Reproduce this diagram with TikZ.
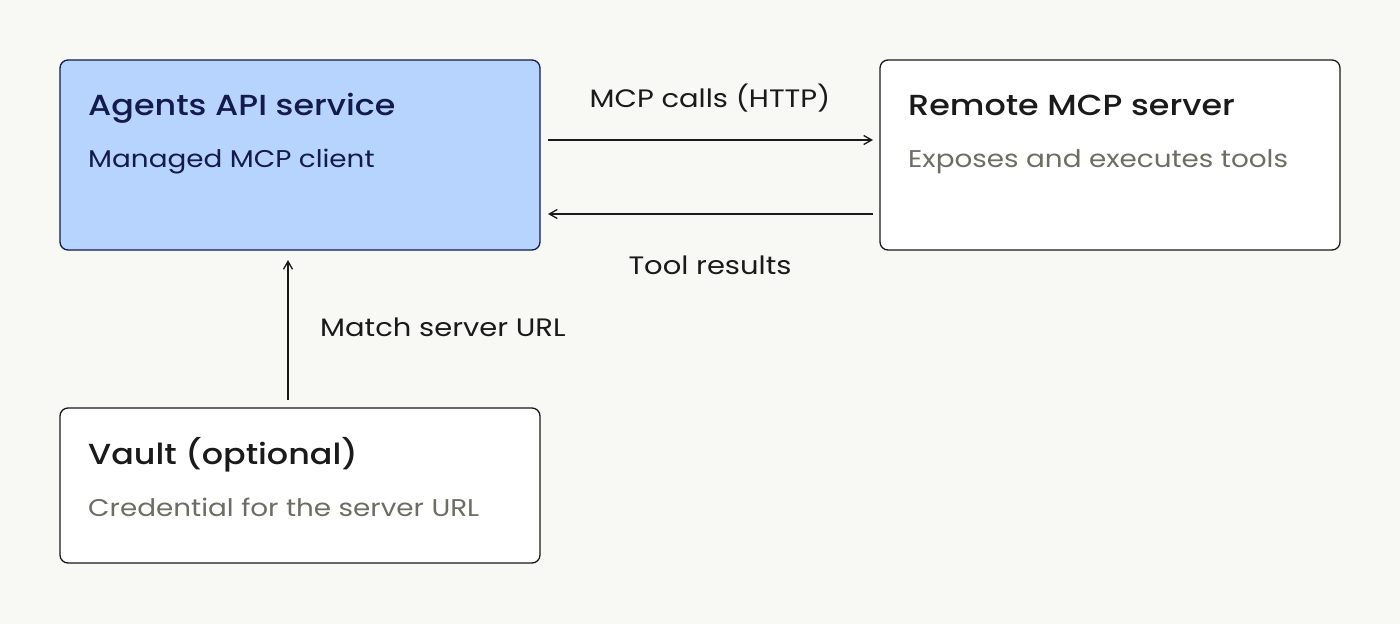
\documentclass[tikz,border=0pt]{standalone}
\usepackage{fontspec}
\setmainfont[FakeStretch=1.15]{Poppins}
\newfontfamily\medf[FakeStretch=1.15]{Poppins Medium}
\usetikzlibrary{arrows.meta}
\definecolor{bg}{HTML}{F8F8F5}
\definecolor{blue}{HTML}{B6D4FE}
\definecolor{navy}{HTML}{141A4A}
\definecolor{ink}{HTML}{1A1A1A}
\definecolor{sub}{HTML}{6B6E62}
\begin{document}
\begin{tikzpicture}[x=1pt,y=-1pt,
 box/.style={draw=ink,fill=white,rounded corners=8pt,line width=1.3pt},
 ttl/.style={anchor=base west,font=\medf\fontsize{29}{32}\selectfont,text=ink,inner sep=0},
 st/.style={anchor=base west,font=\fontsize{24.2}{26}\selectfont,text=sub,inner sep=0},
 lbl/.style={font=\fontsize{25.2}{26}\selectfont,text=ink,inner sep=0,anchor=base},
 arr/.style={-{Straight Barb[length=8pt,width=9pt]},line width=1.3pt,draw=ink}]
\fill[bg] (0,0) rectangle (1400,624);
\useasboundingbox (0,0) rectangle (1400,624);
\draw[box,fill=blue,draw=navy] (60,60) rectangle (540,250);
\node[ttl,text=navy] (at) at (88,115) {Agents API service};
\node[st,text=navy] (as) at (88,167) {Managed MCP client};
\draw[box] (880,60) rectangle (1340,250);
\node[ttl] (rt) at (908,115) {Remote MCP server};
\node[st] (rs) at (908,167) {Exposes and executes tools};
\draw[box] (60,408) rectangle (540,563);
\node[ttl] (vt) at (88,464) {Vault (optional)};
\node[st] (vs) at (88,516) {Credential for the server URL};
\coordinate (a1) at (548,140); \coordinate (b1) at (873,140);
\coordinate (a2) at (873,214); \coordinate (b2) at (548,214);
\coordinate (v1) at (288,400); \coordinate (v2) at (288,260);
\draw[arr] (a1) -- (b1);
\draw[arr] (a2) -- (b2);
\draw[arr] (v1) -- (v2);
\node[lbl] (l1) at (710,107) {MCP calls (HTTP)};
\node[lbl] (l2) at (710,274) {Tool results};
\node[lbl,anchor=base west] (l3) at (320,336) {Match server URL};
\end{tikzpicture}
\end{document}
